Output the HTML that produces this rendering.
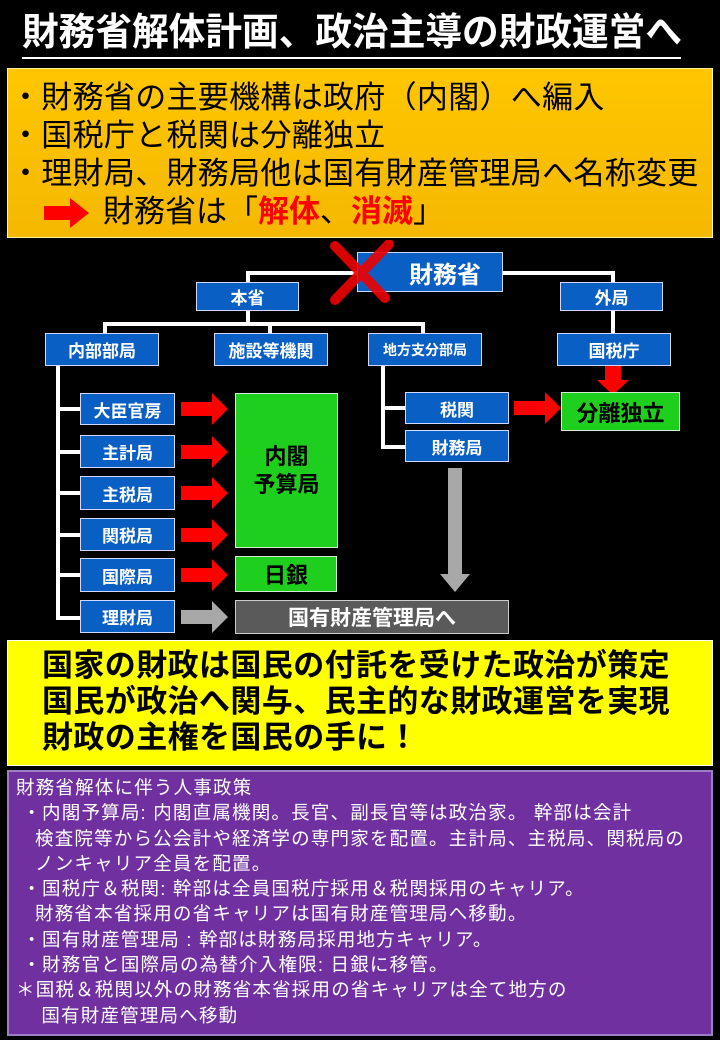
<!DOCTYPE html>
<html><head><meta charset="utf-8"><style>
body{margin:0;background:#000;}
#p{position:relative;width:720px;height:1040px;background:#000;overflow:hidden;font-family:"Liberation Sans","Noto Sans CJK JP",sans-serif;}
.a{position:absolute;box-sizing:border-box;}
.b{position:absolute;box-sizing:border-box;background:#0a5fc4;border:1px solid #cfd8ff;color:#fff;display:flex;align-items:center;justify-content:center;font-weight:bold;font-size:17px;}
.g{position:absolute;box-sizing:border-box;background:#1ecf1e;border:1px solid #cfeecf;color:#000;display:flex;align-items:center;justify-content:center;font-weight:bold;text-align:center;}
.t{position:absolute;white-space:nowrap;}
</style></head><body><div id="p">
<div class="t" style="left:22px;top:10px;font-size:38px;font-weight:bold;color:#fff;line-height:46px;transform:scaleX(0.965);transform-origin:0 0;">財務省解体計画、政治主導の財政運営へ</div>
<div class="a" style="left:22px;top:57px;width:659px;height:2px;background:#fff"></div>

<div class="a" style="left:7px;top:68px;width:706px;height:170px;background:linear-gradient(#ffc600,#f5b800);border:1px solid #fff3a0"></div>
<div class="t" style="left:10px;top:79px;font-size:31px;line-height:38px;color:#000;letter-spacing:0.3px">・財務省の主要機構は政府（内閣）へ編入<br>・国税庁と税関は分離独立<br>・理財局、財務局他は国有財産管理局へ名称変更</div>
<svg class="a" style="left:44px;top:198px" width="46" height="30"><polygon points="0,8 26,8 26,0 45,15 26,30 26,22 0,22" fill="#f00"/></svg>
<div class="t" style="left:103px;top:193px;font-size:31px;line-height:38px;color:#000">財務省は「<span style="color:#f00;font-weight:bold">解体</span>、<span style="color:#f00;font-weight:bold">消滅</span>」</div>

<svg class="a" style="left:0;top:0" width="720" height="1040">
<g stroke="#fff" stroke-width="4" fill="none">
<polyline points="248,282 248,273 357,273"/>
<polyline points="502,273 613,273 613,282"/>
<line x1="248" y1="311" x2="248" y2="324"/>
<polyline points="105,333 105,324 423,324 423,333"/>
<line x1="270" y1="324" x2="270" y2="333"/>
<line x1="613" y1="311" x2="613" y2="333"/>
<polyline points="58,366 58,618 80,618"/>
<line x1="58" y1="409" x2="80" y2="409"/><line x1="58" y1="452" x2="80" y2="452"/><line x1="58" y1="493" x2="80" y2="493"/><line x1="58" y1="535" x2="80" y2="535"/><line x1="58" y1="575" x2="80" y2="575"/>
<polyline points="383,366 383,447 405,447"/>
<line x1="383" y1="408" x2="405" y2="408"/>
</g>
<g fill="#f00">
<polygon points="181,402 212,402 212,393 228,409 212,425 212,416 181,416"/>
<polygon points="181,445 212,445 212,436 228,452 212,468 212,459 181,459"/>
<polygon points="181,486 212,486 212,477 228,493 212,509 212,500 181,500"/>
<polygon points="181,528 212,528 212,519 228,535 212,551 212,542 181,542"/>
<polygon points="181,568 212,568 212,559 228,575 212,591 212,582 181,582"/>
<polygon points="514,401 545,401 545,392 561,408 545,424 545,415 514,415"/>
<polygon points="605,366 621,366 621,380 629,380 613,395 597,380 605,380"/>
</g>
<polygon points="181,610 212,610 212,601 228,617 212,633 212,624 181,624" fill="#a8a8a8"/>
<polygon points="448,468 462,468 462,574 470,574 455,592 440,574 448,574" fill="#a8a8a8"/>
</svg>

<div class="b" style="left:357px;top:252px;width:146px;height:40px;font-size:24px;padding-left:30px">財務省</div>
<svg class="a" style="left:325px;top:240px" width="80" height="66"><g stroke="#e00" stroke-width="10" stroke-linecap="round" opacity="0.9"><line x1="10" y1="6" x2="60" y2="58"/><line x1="64" y1="4" x2="10" y2="60"/></g></svg>
<div class="b" style="left:196px;top:282px;width:103px;height:29px;">本省</div>
<div class="b" style="left:560px;top:282px;width:103px;height:29px;">外局</div>
<div class="b" style="left:45px;top:333px;width:114px;height:33px;">内部部局</div>
<div class="b" style="left:214px;top:333px;width:114px;height:33px;">施設等機関</div>
<div class="b" style="left:368px;top:333px;width:114px;height:33px;font-size:14px">地方支分部局</div>
<div class="b" style="left:557px;top:333px;width:114px;height:33px;">国税庁</div>
<div class="b" style="left:80px;top:393px;width:95px;height:32px;">大臣官房</div>
<div class="b" style="left:80px;top:435px;width:95px;height:33px;">主計局</div>
<div class="b" style="left:80px;top:476px;width:95px;height:34px;">主税局</div>
<div class="b" style="left:80px;top:518px;width:95px;height:33px;">関税局</div>
<div class="b" style="left:80px;top:558px;width:95px;height:34px;">国際局</div>
<div class="b" style="left:80px;top:600px;width:95px;height:33px;">理財局</div>
<div class="g" style="left:235px;top:393px;width:103px;height:155px;font-size:22px;line-height:28px">内閣<br>予算局</div>
<div class="g" style="left:235px;top:556px;width:102px;height:36px;font-size:22px">日銀</div>
<div class="a" style="left:235px;top:600px;width:274px;height:34px;background:#5a5a5a;border:1px solid #ccc;color:#fff;font-weight:bold;font-size:21px;display:flex;align-items:center;justify-content:center">国有財産管理局へ</div>
<div class="b" style="left:405px;top:392px;width:104px;height:32px;">税関</div>
<div class="b" style="left:405px;top:430px;width:104px;height:32px;">財務局</div>
<div class="g" style="left:561px;top:392px;width:119px;height:39px;font-size:22px">分離独立</div>

<div class="a" style="left:7px;top:640px;width:706px;height:126px;background:#ffff00;border:1px solid #fff"></div>
<div class="t" style="left:42px;top:648px;font-size:31px;line-height:36px;color:#000;font-weight:bold;letter-spacing:0.4px">国家の財政は国民の付託を受けた政治が策定<br>国民が政治へ関与、民主的な財政運営を実現<br>財政の主権を国民の手に！</div>

<div class="a" style="left:7px;top:770px;width:706px;height:266px;background:#7030a0;border:2px solid #9a80c0"></div>
<div class="t" style="left:16px;top:775px;font-size:18.5px;line-height:25.3px;color:#fff;letter-spacing:1.2px">財務省解体に伴う人事政策<br>&nbsp;・内閣予算局: 内閣直属機関。長官、副長官等は政治家。 幹部は会計<br>&nbsp;&nbsp;&nbsp;検査院等から公会計や経済学の専門家を配置。主計局、主税局、関税局の<br>&nbsp;&nbsp;&nbsp;ノンキャリア全員を配置。<br>&nbsp;・国税庁＆税関: 幹部は全員国税庁採用＆税関採用のキャリア。<br>&nbsp;&nbsp;&nbsp;財務省本省採用の省キャリアは国有財産管理局へ移動。<br>&nbsp;・国有財産管理局 : 幹部は財務局採用地方キャリア。<br>&nbsp;・財務官と国際局の為替介入権限: 日銀に移管。<br>＊国税＆税関以外の財務省本省採用の省キャリアは全て地方の<br>&nbsp;&nbsp;&nbsp;&nbsp;国有財産管理局へ移動</div>
</div></body></html>
